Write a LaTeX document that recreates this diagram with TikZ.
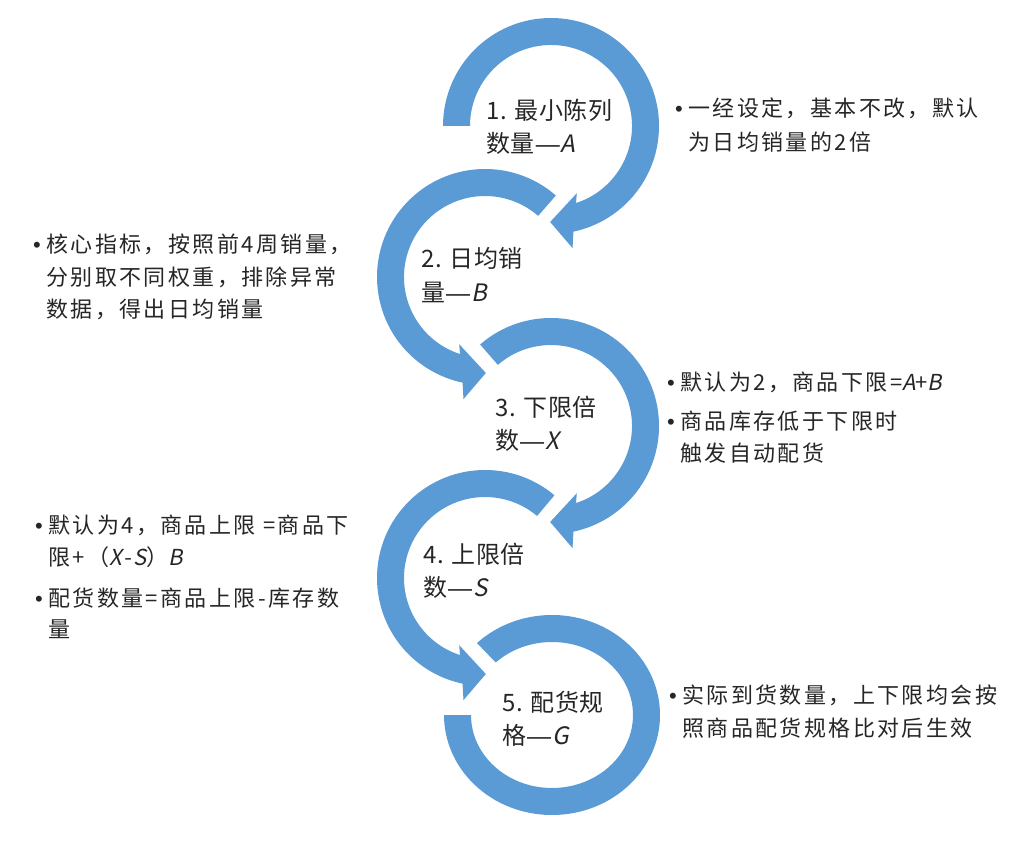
\documentclass[tikz,border=0pt]{standalone}
\usepackage{fontspec}
\newfontfamily\cjkc[LetterSpace=2.5]{Noto Sans CJK SC}
\newfontfamily\cjkci[LetterSpace=2.5,FakeSlant=0.2]{Noto Sans CJK SC}
\newfontfamily\cjks[LetterSpace=11]{Noto Sans CJK SC}
\newfontfamily\cjksi[LetterSpace=11,FakeSlant=0.2]{Noto Sans CJK SC}
\newfontfamily\bulfont{Liberation Sans}
\definecolor{ringblue}{HTML}{5B9BD5}
\definecolor{txt}{HTML}{262626}
\newcommand{\mydash}{{\bulfont\kern1pt —\kern1pt}}
\tikzset{
  band/.style={fill=ringblue},
  lbl/.style={anchor=base west, inner sep=0pt, text=txt, font=\cjkc\fontsize{24}{28}\selectfont},
  side/.style={anchor=base west, inner sep=0pt, text=txt, font=\cjks\fontsize{22}{26}\selectfont},
  bul/.style={anchor=base west, inner sep=0pt, text=txt, font=\bulfont\fontsize{22}{26}\selectfont}
}
\begin{document}
\begin{tikzpicture}[x=1pt,y=1pt]
\useasboundingbox (0,0) rectangle (1024,841);
\fill[white] (0,0) rectangle (1024,841);
\coordinate (c1) at (551,715);
\coordinate (c2) at (485,564);
\coordinate (c3) at (551,415);
\coordinate (c4) at (485,263);
\coordinate (c5) at (552,126);
% ring 1 (clockwise, from the left)
\fill[band] ([shift={(c1)}]180:108pt) arc[start angle=180,end angle=-78,radius=108pt]
  -- ([shift={(c1)}]-80:124pt) -- ([shift={(c1)}]-90.5:96pt) -- ([shift={(c1)}]-69:72pt)
  -- ([shift={(c1)}]-72:81pt) arc[start angle=-72,end angle=180,radius=81pt] -- cycle;
% ring 2 (counter-clockwise)
\fill[band] ([shift={(c2)}]49:108pt) arc[start angle=49,end angle=258,radius=108pt]
  -- ([shift={(c2)}]260:124pt) -- ([shift={(c2)}]270.5:96pt) -- ([shift={(c2)}]249:72pt)
  -- ([shift={(c2)}]252:81pt) arc[start angle=252,end angle=49,radius=81pt] -- cycle;
% ring 3 (clockwise)
\fill[band] ([shift={(c3)}]131:108pt) arc[start angle=131,end angle=-78,radius=108pt]
  -- ([shift={(c3)}]-80:124pt) -- ([shift={(c3)}]-90.5:96pt) -- ([shift={(c3)}]-69:72pt)
  -- ([shift={(c3)}]-72:81pt) arc[start angle=-72,end angle=131,radius=81pt] -- cycle;
% ring 4 (counter-clockwise)
\fill[band] ([shift={(c4)}]50:108pt) arc[start angle=50,end angle=258,radius=108pt]
  -- ([shift={(c4)}]260:124pt) -- ([shift={(c4)}]270.5:96pt) -- ([shift={(c4)}]249:72pt)
  -- ([shift={(c4)}]252:81pt) arc[start angle=252,end angle=50,radius=81pt] -- cycle;
% ring 5 (clockwise, no arrow head)
\fill[band] ([shift={(c5)}]134:108pt and 100pt) arc[start angle=134,end angle=-180,x radius=108pt,y radius=100pt]
  -- ([shift={(c5)}]180:81pt and 73pt) arc[start angle=-180,end angle=134,x radius=81pt,y radius=73pt] -- cycle;
% centre labels
\node[lbl] (l1a) at (486,721.5) {1. 最小陈列};
\node[lbl] (l1b) at (486,688.5) {数量\mydash{\cjkci A}};
\node[lbl] (l2a) at (421,573.5) {2. 日均销};
\node[lbl] (l2b) at (421,539.5) {量\mydash{\cjkci B}};
\node[lbl] (l3a) at (495,424.5) {3. 下限倍};
\node[lbl] (l3b) at (495,391.5) {数\mydash{\cjkci X}};
\node[lbl] (l4a) at (423,277.5) {4. 上限倍};
\node[lbl] (l4b) at (423,244.5) {数\mydash{\cjkci S}};
\node[lbl] (l5a) at (502,129.5) {5. 配货规};
\node[lbl] (l5b) at (502,96.5) {格\mydash{\cjkci G}};
% side notes
\node[bul] (b1) at (675,724.5) {•};
\node[side] (r1a) at (688,724.5) {一经设定，基本不改，默认};
\node[side] (r1b) at (688,690.5) {为日均销量的2倍};
\node[bul] (b2) at (33,588.5) {•};
\node[side] (l2s1) at (46,588.5) {核心指标，按照前4周销量，};
\node[side] (l2s2) at (46,555.5) {分别取不同权重，排除异常};
\node[side] (l2s3) at (46,523.5) {数据，得出日均销量};
\node[bul] (b3) at (667,450.5) {•};
\node[side] (r3a) at (680,450.5) {默认为2，商品下限={\cjksi A}+{\cjksi B}};
\node[bul] (b4) at (667,411.5) {•};
\node[side] (r3b) at (680,411.5) {商品库存低于下限时};
\node[side] (r3c) at (680,379.5) {触发自动配货};
\node[bul] (b5) at (35,307.5) {•};
\node[side] (l4s1) at (48,307.5) {默认为4，商品上限 =商品下};
\node[side] (l4s2) at (48,275.5) {限+（{\cjksi X-S}）{\cjksi B}};
\node[bul] (b6) at (35,234.5) {•};
\node[side] (l4s3) at (48,234.5) {配货数量=商品上限-库存数};
\node[side] (l4s4) at (48,203.5) {量};
\node[bul] (b7) at (669,137.5) {•};
\node[side] (r5a) at (682,137.5) {实际到货数量，上下限均会按};
\node[side] (r5b) at (682,104.5) {照商品配货规格比对后生效};
\end{tikzpicture}
\end{document}
